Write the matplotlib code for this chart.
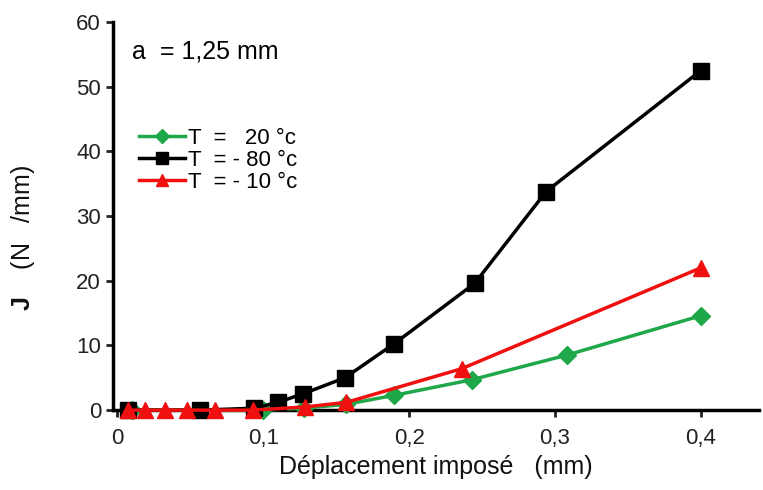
import matplotlib
matplotlib.use('Agg')
import matplotlib.pyplot as plt

plt.rcParams['font.family'] = ['Liberation Sans', 'DejaVu Sans']
plt.rcParams['mathtext.fontset'] = 'custom'
plt.rcParams['mathtext.bf'] = 'Liberation Sans:bold'
plt.rcParams['mathtext.rm'] = 'Liberation Sans'

# T = 20 °c
x_20 = [0.01, 0.1, 0.128, 0.157, 0.19, 0.243, 0.308, 0.4]
j_20 = [0.0, 0.0, 0.3, 0.9, 2.3, 4.7, 8.5, 14.6]

# T = -80 °c
x_80 = [0.0075, 0.057, 0.094, 0.110, 0.127, 0.156, 0.190, 0.245, 0.294, 0.400]
j_80 = [0.0, 0.0, 0.3, 1.2, 2.5, 5.0, 10.3, 19.6, 33.8, 52.5]

# T = -10 °c
x_10 = [0.0075, 0.019, 0.033, 0.048, 0.067, 0.093, 0.129, 0.157, 0.236, 0.400]
j_10 = [0.0, 0.0, 0.0, 0.0, 0.0, 0.0, 0.5, 1.2, 6.4, 22.0]

fig = plt.figure(figsize=(7.63, 4.9), dpi=100)
ax = fig.add_axes([0.148, 0.163, 0.847, 0.792])

ax.plot(x_20, j_20, color='#1fa84a', marker='D', markersize=9, lw=2.5,
        label='T  =   20 °c', clip_on=False, zorder=3)
ax.plot(x_80, j_80, color='black', marker='s', markersize=11, lw=2.5,
        label='T  = - 80 °c', clip_on=False, zorder=4)
ax.plot(x_10, j_10, color='#f01010', marker='^', markersize=11, lw=2.5,
        label='T  = - 10 °c', clip_on=False, zorder=5)

ax.set_xlim(-0.003, 0.44)
ax.set_ylim(0, 60)
ax.set_xticks([0, 0.1, 0.2, 0.3, 0.4])
ax.set_xticklabels(['0', '0,1', '0,2', '0,3', '0,4'])
ax.set_yticks(range(0, 61, 10))

for s in ['top', 'right']:
    ax.spines[s].set_visible(False)
for s in ['left', 'bottom']:
    ax.spines[s].set_linewidth(2.5)
    ax.spines[s].set_zorder(2)
ax.tick_params(width=2, length=5, labelsize=16, colors='#222222')
ax.tick_params(axis='x', pad=8)

ax.set_xlabel('Déplacement imposé   (mm)', fontsize=18, color='#111111', labelpad=4)
ax.set_ylabel(r'$\mathbf{J}$    (N   /mm)', fontsize=18, color='#111111')
ax.yaxis.set_label_coords(-0.117, 0.443)

ax.text(0.03, 0.955, 'a  = 1,25 mm', transform=ax.transAxes, fontsize=18, va='top')

leg = ax.legend(loc='upper left', bbox_to_anchor=(0.026, 0.75), frameon=False,
                fontsize=16, handlelength=2.1, handletextpad=0.1, labelspacing=0.05,
                borderaxespad=0, markerscale=0.75)

fig.savefig('out.png')
